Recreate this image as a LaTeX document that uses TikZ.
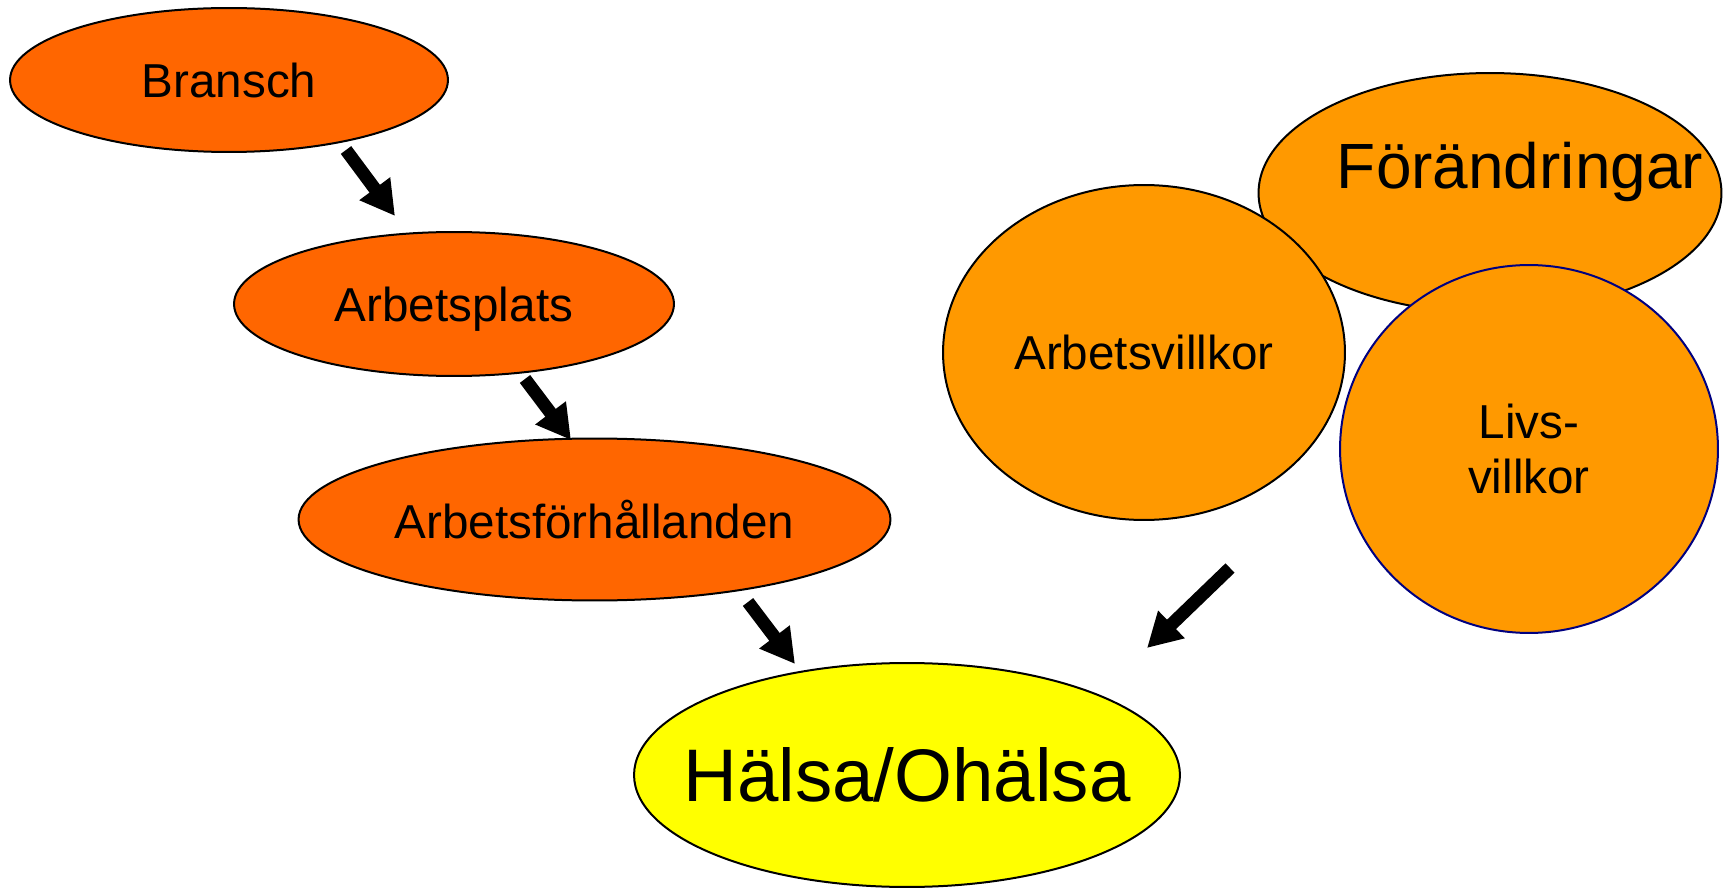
\documentclass[tikz,border=0pt]{standalone}
\usepackage{fontspec}
\setmainfont{Liberation Sans}
\usetikzlibrary{calc}
\usetikzlibrary{shapes}
\usetikzlibrary{arrows.meta}

\definecolor{rodorange}{HTML}{FF6600}
\definecolor{ljusorange}{HTML}{FF9900}
\definecolor{gul}{HTML}{FFFF00}
\definecolor{marin}{HTML}{000080}

\newcommand{\fri}[1]{\makebox[0pt]{#1}}

\tikzset{
	faktor/.style={ellipse, draw=black, line width=0.04cm, inner sep=0pt, font=\fontsize{27.1pt}{31.3pt}\selectfont},
	kedja/.style={faktor, fill=rodorange, text depth=0pt},
	villkor/.style={faktor, fill=ljusorange},
	pil/.style={line width=0.26cm, -{Triangle[length=0.68cm, width=0.72cm]}}
}

\begin{document}
\begin{tikzpicture}[x=0.02cm, y=-0.02cm]
				\useasboundingbox (0,0) rectangle (1731,888);
				
				\node[kedja, minimum width=8.76cm, minimum height=2.88cm] (B) at (229,80) {\fri{Bransch}};
				\node[kedja, minimum width=8.8cm, minimum height=2.88cm] (AP) at (454,304) {\fri{Arbetsplats}};
				\node[kedja, minimum width=11.84cm, minimum height=3.24cm] (AF) at (594.5,519.5) {\fri{Arbetsförhållanden}};
				\node[faktor, fill=gul, minimum width=10.92cm, minimum height=4.48cm, font=\fontsize{42.4pt}{48pt}\selectfont] (H) at (907,775) {\fri{Hälsa/Ohälsa}};
				
				\node[villkor, minimum width=9.26cm, minimum height=4.8cm] (F) at (1490,193) {};
				\node[font=\fontsize{36.4pt}{42pt}\selectfont] (Ftext) at ($(F)+(30,-21)$) {Förändringar};
				\node[villkor, minimum width=8.04cm, minimum height=6.7cm] (AV) at (1144,352.5) {\fri{Arbetsvillkor}};
				\node[villkor, draw=marin, minimum width=7.56cm, minimum height=7.36cm, align=center] (LV) at (1529,449) {Livs-\\villkor};
				
				\draw[pil] ($(B)+(117,70)$) -- ($(AP)+(-59,-88)$);
				\draw[pil] ($(AP)+(71,75)$) -- ($(AF)+(-23.5,-79.5)$);
				\draw[pil] ($(AF)+(153.5,82.5)$) -- ($(H)+(-112,-111)$);
				\draw[pil] ($(AV)+(86,215.5)$) -- ($(H)+(240,-127)$);
			\end{tikzpicture}
\end{document}
